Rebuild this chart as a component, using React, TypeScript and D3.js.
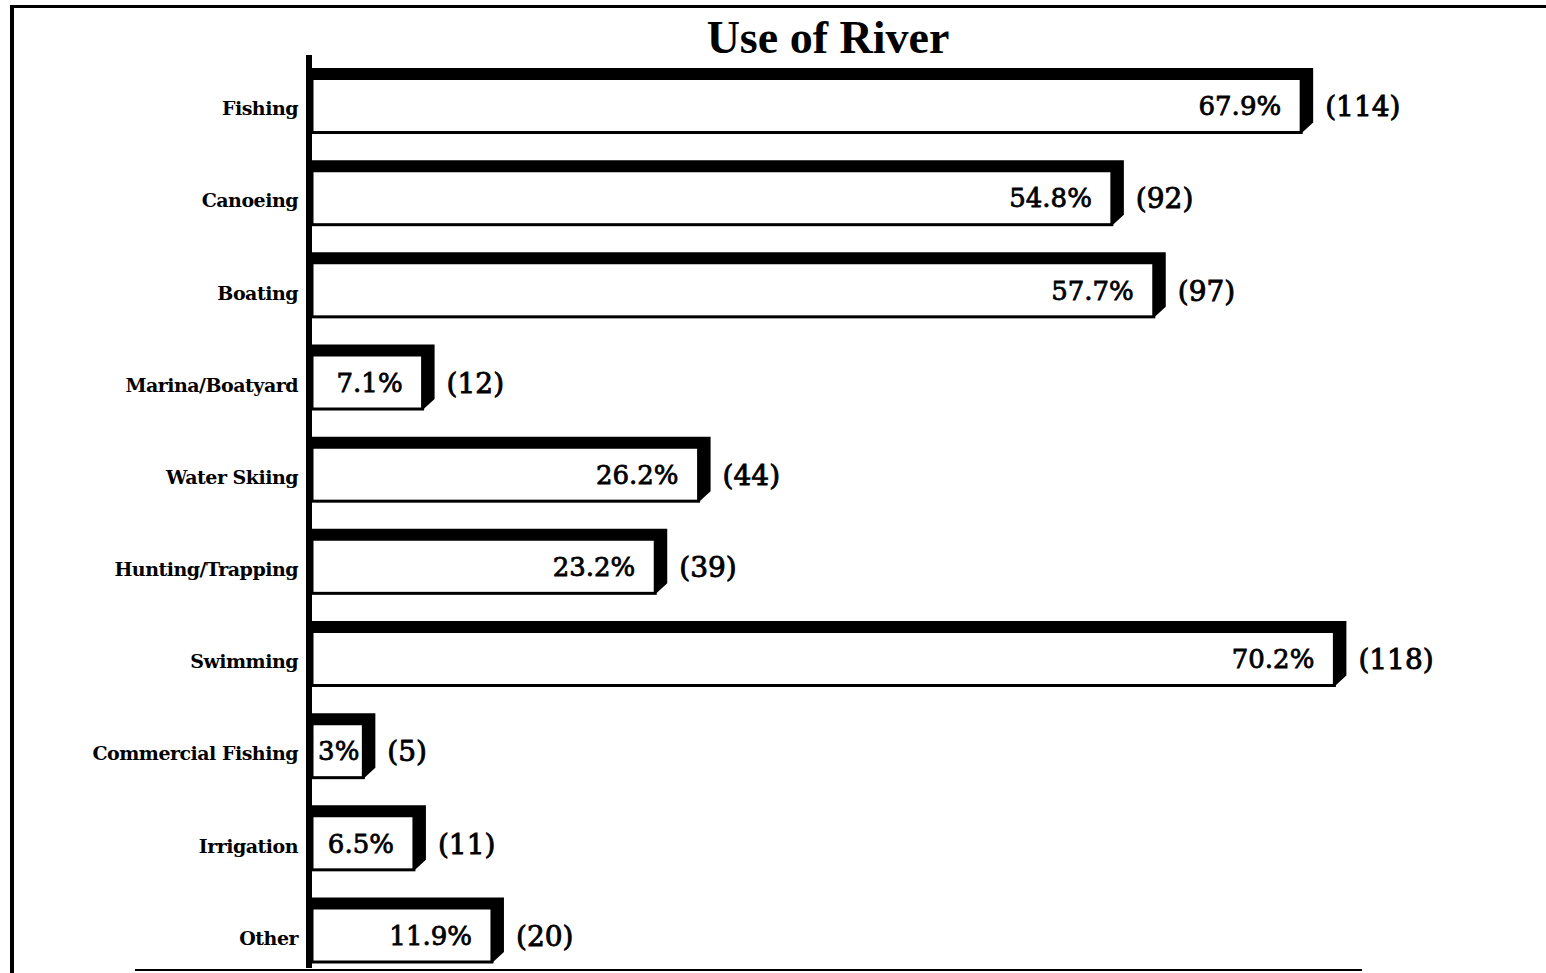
import React from "react";
import * as d3 from "d3";

const title = "Use of River";
const categories = [
  "Fishing",
  "Canoeing",
  "Boating",
  "Marina/Boatyard",
  "Water Skiing",
  "Hunting/Trapping",
  "Swimming",
  "Commercial Fishing",
  "Irrigation",
  "Other",
];
const percents = [67.9, 54.8, 57.7, 7.1, 26.2, 23.2, 70.2, 3, 6.5, 11.9];
const percentLabels = ["67.9%", "54.8%", "57.7%", "7.1%", "26.2%", "23.2%", "70.2%", "3%", "6.5%", "11.9%"];
const counts = [114, 92, 97, 12, 44, 39, 118, 5, 11, 20];

const W = 1546;
const H = 973;
const AXIS_X = 306;
const BAR_X0 = 312;
const THICK = 12;
const BEVEL = 10;
const NUM_FONT = "'DejaVu Serif', 'Liberation Serif', serif";
const CAT_FONT = "'DejaVu Serif', 'Liberation Serif', serif";
const PCT_SIZE = 26;
const CNT_SIZE = 28;

export default function App() {
  const x = d3.scaleLinear().domain([0, 100]).range([BAR_X0 + 8, BAR_X0 + 8 + 1445]);
  const y = d3
    .scaleBand<string>()
    .domain(categories)
    .range([68, 962])
    .paddingInner(0.3)
    .paddingOuter(0);
  const bh = y.bandwidth();

  const estWidth = (s: string) => (s.length - 1) * PCT_SIZE * 0.62 + PCT_SIZE * 0.95;

  return (
    <svg
      width={W}
      height={H}
      viewBox={`0 0 ${W} ${H}`}
      style={{ position: "absolute", left: 0, top: 0, display: "block", background: "#fff" }}
    >
      <rect x={0} y={0} width={W} height={H} fill="#fff" />
      {/* frame */}
      <rect x={10} y={5} width={W - 10} height={3} fill="#000" />
      <rect x={10} y={5} width={4} height={H - 5} fill="#000" />
      <rect x={135} y={969} width={1227} height={2} fill="#000" />

      {/* title */}
      <text
        x={828}
        y={53}
        textAnchor="middle"
        fontFamily="'Liberation Serif', serif"
        fontWeight="bold"
        fontSize={46}
        fill="#000"
      >
        {title}
      </text>

      {categories.map((c, i) => {
        const y0 = y(c) as number;
        const y1 = y0 + bh;
        const xr = x(percents[i]) + THICK;
        const innerR = xr - THICK;
        const innerW = innerR - BAR_X0;
        const ew = estWidth(percentLabels[i]);
        const pad = Math.max(4, Math.min(20, innerW - ew - 8));
        const endX = Math.max(innerR - pad, BAR_X0 + 6 + ew);
        const innerMid = (y0 + THICK + y1) / 2;
        const shadow = `M${BAR_X0},${y0} L${xr},${y0} L${xr},${y1 - BEVEL} L${xr - THICK},${y1 + 1} L${xr - THICK},${y0 + THICK} L${BAR_X0},${y0 + THICK} Z`;
        return (
          <g key={c}>
            <rect
              x={BAR_X0}
              y={y0 + THICK / 2}
              width={innerW}
              height={bh - THICK / 2}
              fill="#fff"
              stroke="#000"
              strokeWidth={3}
            />
            <path d={shadow} fill="#000" />
            <text
              x={endX}
              y={innerMid + 9}
              textAnchor="end"
              fontFamily={NUM_FONT}
              fontSize={PCT_SIZE}
              stroke="#000"
              strokeWidth={0.8}
              fill="#000"
            >
              {percentLabels[i]}
            </text>
            <text
              x={xr + 12}
              y={innerMid + 10}
              textAnchor="start"
              fontFamily={NUM_FONT}
              fontSize={CNT_SIZE}
              stroke="#000"
              strokeWidth={0.9}
              fill="#000"
            >
              {`(${counts[i]})`}
            </text>
            <text
              x={298}
              y={(y0 + y1) / 2 + 15}
              textAnchor="end"
              fontFamily={CAT_FONT}
              fontWeight="bold"
              fontSize={19}
              letterSpacing={-0.5}
              fill="#000"
            >
              {c}
            </text>
          </g>
        );
      })}

      {/* axis */}
      <rect x={AXIS_X} y={55} width={6} height={913} fill="#000" />
    </svg>
  );
}
